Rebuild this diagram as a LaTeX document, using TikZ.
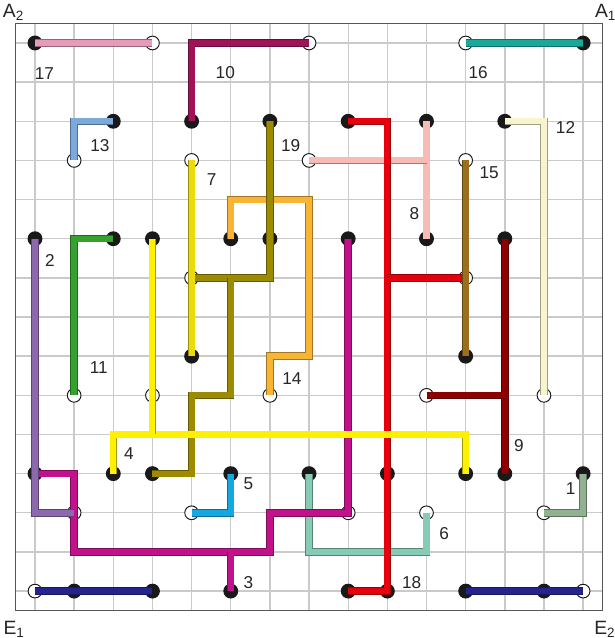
\documentclass[tikz,border=0pt]{standalone}
\usepackage{fontspec}
\setmainfont{Liberation Sans}
\usepackage{tikz}
\usepackage{xcolor}
\definecolor{gridline}{HTML}{CACACA}
\definecolor{frame}{HTML}{555555}
\definecolor{wpink}{HTML}{E79AB9}
\definecolor{wplum}{HTML}{9E1456}
\definecolor{wteal}{HTML}{1AA89A}
\definecolor{wsky}{HTML}{7DA8DC}
\definecolor{wcream}{HTML}{F7F4CE}
\definecolor{wolive}{HTML}{9C8B00}
\definecolor{wlemon}{HTML}{EBDB0A}
\definecolor{wyellow}{HTML}{FFEF00}
\definecolor{worange}{HTML}{F8B535}
\definecolor{wsalmon}{HTML}{F5BBB4}
\definecolor{wred}{HTML}{E6000E}
\definecolor{wbrown}{HTML}{9B6F1F}
\definecolor{wmaroon}{HTML}{8E0000}
\definecolor{wpurple}{HTML}{8C69AC}
\definecolor{wgreen}{HTML}{35A12E}
\definecolor{wcyan}{HTML}{14A7E1}
\definecolor{wmagenta}{HTML}{C2128B}
\definecolor{wmint}{HTML}{86CBB3}
\definecolor{wsage}{HTML}{91B190}
\definecolor{wnavy}{HTML}{24248C}

\begin{document}
\begin{tikzpicture}[
    wire/.style={draw=#1!65!black,double=#1,line width=0.5pt,double distance=4.4pt},
    num/.style={font=\fontsize{12.5}{14}\selectfont,text=black!85,inner sep=0pt},
    corner/.style={font=\fontsize{14}{16}\selectfont,text=black!85,inner sep=0pt,anchor=base west}]
    \useasboundingbox (-0.894,-1.198) rectangle (14.79,15.098);
    \draw[gridline,line width=1pt] (-0.5,-0.5) grid (14.5,14.5);
    \draw[frame,line width=1.1pt] (-0.5,-0.5) rectangle (14.5,14.5);
    \foreach \i in {0,...,14}
        \foreach \j in {0,...,14}
            \coordinate (g-\i-\j) at (\i,14-\j);
    % pins
    \foreach \p in {0-0,14-0,2-2,4-2,6-2,8-2,10-2,12-2,0-5,2-5,3-5,5-5,6-5,8-5,10-5,12-5,
                    4-8,11-8,0-11,2-11,3-11,5-11,7-11,9-11,11-11,12-11,14-11,
                    1-14,3-14,5-14,8-14,9-14,11-14,13-14}
        \fill[black!90] (g-\p) circle (0.19);
    \foreach \p in {3-0,7-0,11-0,1-3,4-3,7-3,11-3,4-6,11-6,1-9,3-9,6-9,10-9,13-9,
                    1-12,4-12,8-12,10-12,13-12,0-14,14-14}
        \filldraw[fill=white,draw=black!90,line width=0.7pt] (g-\p) circle (0.175);
    % wires
    \draw[wire=wsalmon] (g-10-2) -- (g-10-5);
    \draw[wire=wsalmon] (g-7-3) -- (g-10-3);
    \draw[wire=wmint] (g-7-11) -- (g-7-13) -- (g-10-13) -- (g-10-12);
    \draw[wire=worange] (g-5-5) -- (g-5-4) -- (g-7-4) -- (g-7-8) -- (g-6-8) -- (g-6-9);
    \draw[wire=wolive] (g-6-2) -- (g-6-6) -- (g-4-6);
    \draw[wire=wolive] (g-5-6) -- (g-5-9) -- (g-4-9) -- (g-4-11) -- (g-3-11);
    \draw[wire=wlemon] (g-4-3) -- (g-4-8);
    \draw[wire=wred] (g-8-2) -- (g-9-2) -- (g-9-14) -- (g-8-14);
    \draw[wire=wred] (g-9-6) -- (g-11-6);
    \draw[wire=wbrown] (g-11-3) -- (g-11-8);
    \draw[wire=wmagenta] (g-0-11) -- (g-1-11) -- (g-1-13) -- (g-6-13) -- (g-6-12) -- (g-8-12) -- (g-8-5);
    \draw[wire=wmagenta] (g-5-13) -- (g-5-14);
    \draw[wire=wpurple] (g-0-5) -- (g-0-12) -- (g-1-12);
    \draw[wire=wyellow] (g-2-11) -- (g-2-10) -- (g-11-10) -- (g-11-11);
    \draw[wire=wyellow] (g-3-5) -- (g-3-10);
    \draw[wire=wpink] (g-0-0) -- (g-3-0);
    \draw[wire=wplum] (g-7-0) -- (g-4-0) -- (g-4-2);
    \draw[wire=wteal] (g-11-0) -- (g-14-0);
    \draw[wire=wsky] (g-2-2) -- (g-1-2) -- (g-1-3);
    \draw[wire=wcream] (g-12-2) -- (g-13-2) -- (g-13-9);
    \draw[wire=wmaroon] (g-12-5) -- (g-12-11);
    \draw[wire=wmaroon] (g-10-9) -- (g-12-9);
    \draw[wire=wgreen] (g-2-5) -- (g-1-5) -- (g-1-9);
    \draw[wire=wcyan] (g-5-11) -- (g-5-12) -- (g-4-12);
    \draw[wire=wsage] (g-14-11) -- (g-14-12) -- (g-13-12);
    \draw[wire=wnavy] (g-0-14) -- (g-3-14);
    \draw[wire=wnavy] (g-11-14) -- (g-14-14);
    % labels
    \node[num] (n17) at (0.24,13.21) {17};
    \node[num] (n10) at (4.86,13.24) {10};
    \node[num] (n16) at (11.32,13.24) {16};
    \node[num] (n13) at (1.66,11.37) {13};
    \node[num] (n19) at (6.53,11.37) {19};
    \node[num] (n7) at (4.51,10.5) {7};
    \node[num] (n12) at (13.55,11.84) {12};
    \node[num] (n15) at (11.6,10.7) {15};
    \node[num] (n8) at (9.69,9.65) {8};
    \node[num] (n2) at (0.38,8.44) {2};
    \node[num] (n11) at (1.63,5.7) {11};
    \node[num] (n14) at (6.56,5.43) {14};
    \node[num] (n4) at (2.4,3.52) {4};
    \node[num] (n5) at (5.45,2.75) {5};
    \node[num] (n3) at (5.45,0.22) {3};
    \node[num] (n9) at (12.36,3.72) {9};
    \node[num] (n1) at (13.68,2.61) {1};
    \node[num] (n6) at (10.45,1.47) {6};
    \node[num] (n18) at (9.62,0.22) {18};
    \node[corner] (a2) at (-0.825,14.66) {A\textsubscript{2}};
    \node[corner] (a1) at (14.30,14.66) {A\textsubscript{1}};
    \node[corner] (e1) at (-0.81,-1.10) {E\textsubscript{1}};
    \node[corner] (e2) at (14.28,-1.10) {E\textsubscript{2}};
\end{tikzpicture}
\end{document}
